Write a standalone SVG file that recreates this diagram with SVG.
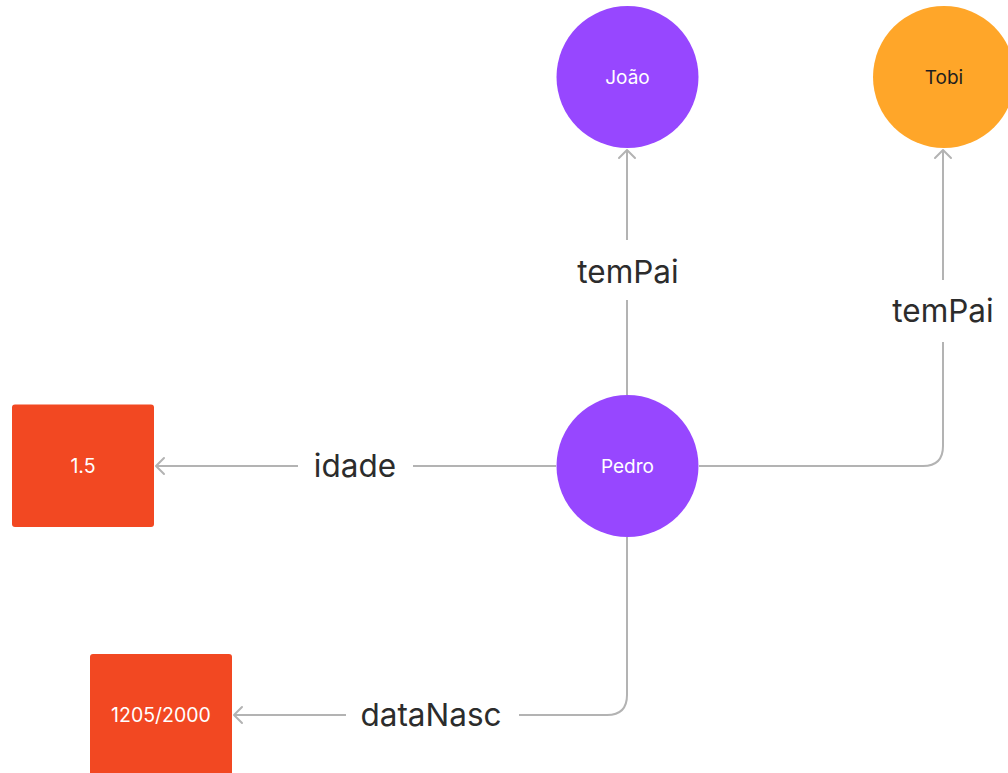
<svg xmlns="http://www.w3.org/2000/svg" width="1008" height="773" viewBox="0 0 1008 773">
  <style>
    .edge { fill: none; stroke: #b3b3b3; stroke-width: 2; }
    .elabel { font-family: Inter, "Noto Sans", "Liberation Sans", sans-serif; font-size: 31.5px; fill: #2c2c2c; text-anchor: middle; }
    .nlabel { font-family: Inter, "Noto Sans", "Liberation Sans", sans-serif; font-size: 19px; text-anchor: middle; }
    .vlabel { font-size: 19.5px; }
    .person { fill: #9747ff; }
    .pet { fill: #ffa629; }
    .literal { fill: #f24822; }
    .light { fill: #ffffff; }
    .dark { fill: #1e1e1e; }
  </style>
  <defs>
    <!-- open chevron head; tip sits on the end of the line -->
    <marker id="arrow" refX="10" refY="9" markerWidth="14" markerHeight="18" markerUnits="userSpaceOnUse" orient="auto" overflow="visible">
      <path d="M2 1 L10 9 L2 17" fill="none" stroke="#b3b3b3" stroke-width="2" stroke-linecap="round" stroke-linejoin="round"/>
    </marker>
  </defs>
  <rect width="1008" height="773" fill="#ffffff"/>

  <g id="connectors">
    <!-- Pedro -> João -->
    <path class="edge" d="M627 395 V300"/>
    <path class="edge" d="M627 240 V150" marker-end="url(#arrow)"/>
    <!-- Pedro -> Tobi -->
    <path class="edge" d="M699 466 H923 Q943 466 943 446 V342"/>
    <path class="edge" d="M943 280 V150" marker-end="url(#arrow)"/>
    <!-- Pedro -> 1.5 -->
    <path class="edge" d="M556 466 H413"/>
    <path class="edge" d="M298 466 H156" marker-end="url(#arrow)"/>
    <!-- Pedro -> 1205/2000 -->
    <path class="edge" d="M627 537 V695 Q627 715 607 715 H519"/>
    <path class="edge" d="M346 715 H234" marker-end="url(#arrow)"/>

    <text class="elabel" x="628" y="283">temPai</text>
    <text class="elabel" x="943" y="322">temPai</text>
    <text class="elabel" x="355" y="477">idade</text>
    <text class="elabel" x="431" y="726">dataNasc</text>
  </g>

  <g id="joao">
    <circle class="person" cx="627.5" cy="77" r="71"/>
    <text class="nlabel light" x="627.5" y="84">João</text>
  </g>
  <g id="tobi">
    <circle class="pet" cx="944" cy="77" r="71"/>
    <text class="nlabel dark" x="944" y="84">Tobi</text>
  </g>
  <g id="pedro">
    <circle class="person" cx="627.5" cy="466" r="71"/>
    <text class="nlabel light" x="627.5" y="473">Pedro</text>
  </g>
  <g id="idade-valor">
    <rect class="literal" x="12" y="404.5" width="142" height="122.5" rx="3"/>
    <text class="nlabel vlabel light" x="83" y="473">1.5</text>
  </g>
  <g id="dataNasc-valor">
    <rect class="literal" x="90" y="654" width="142" height="130" rx="3"/>
    <text class="nlabel vlabel light" x="161" y="722">1205/2000</text>
  </g>
</svg>
